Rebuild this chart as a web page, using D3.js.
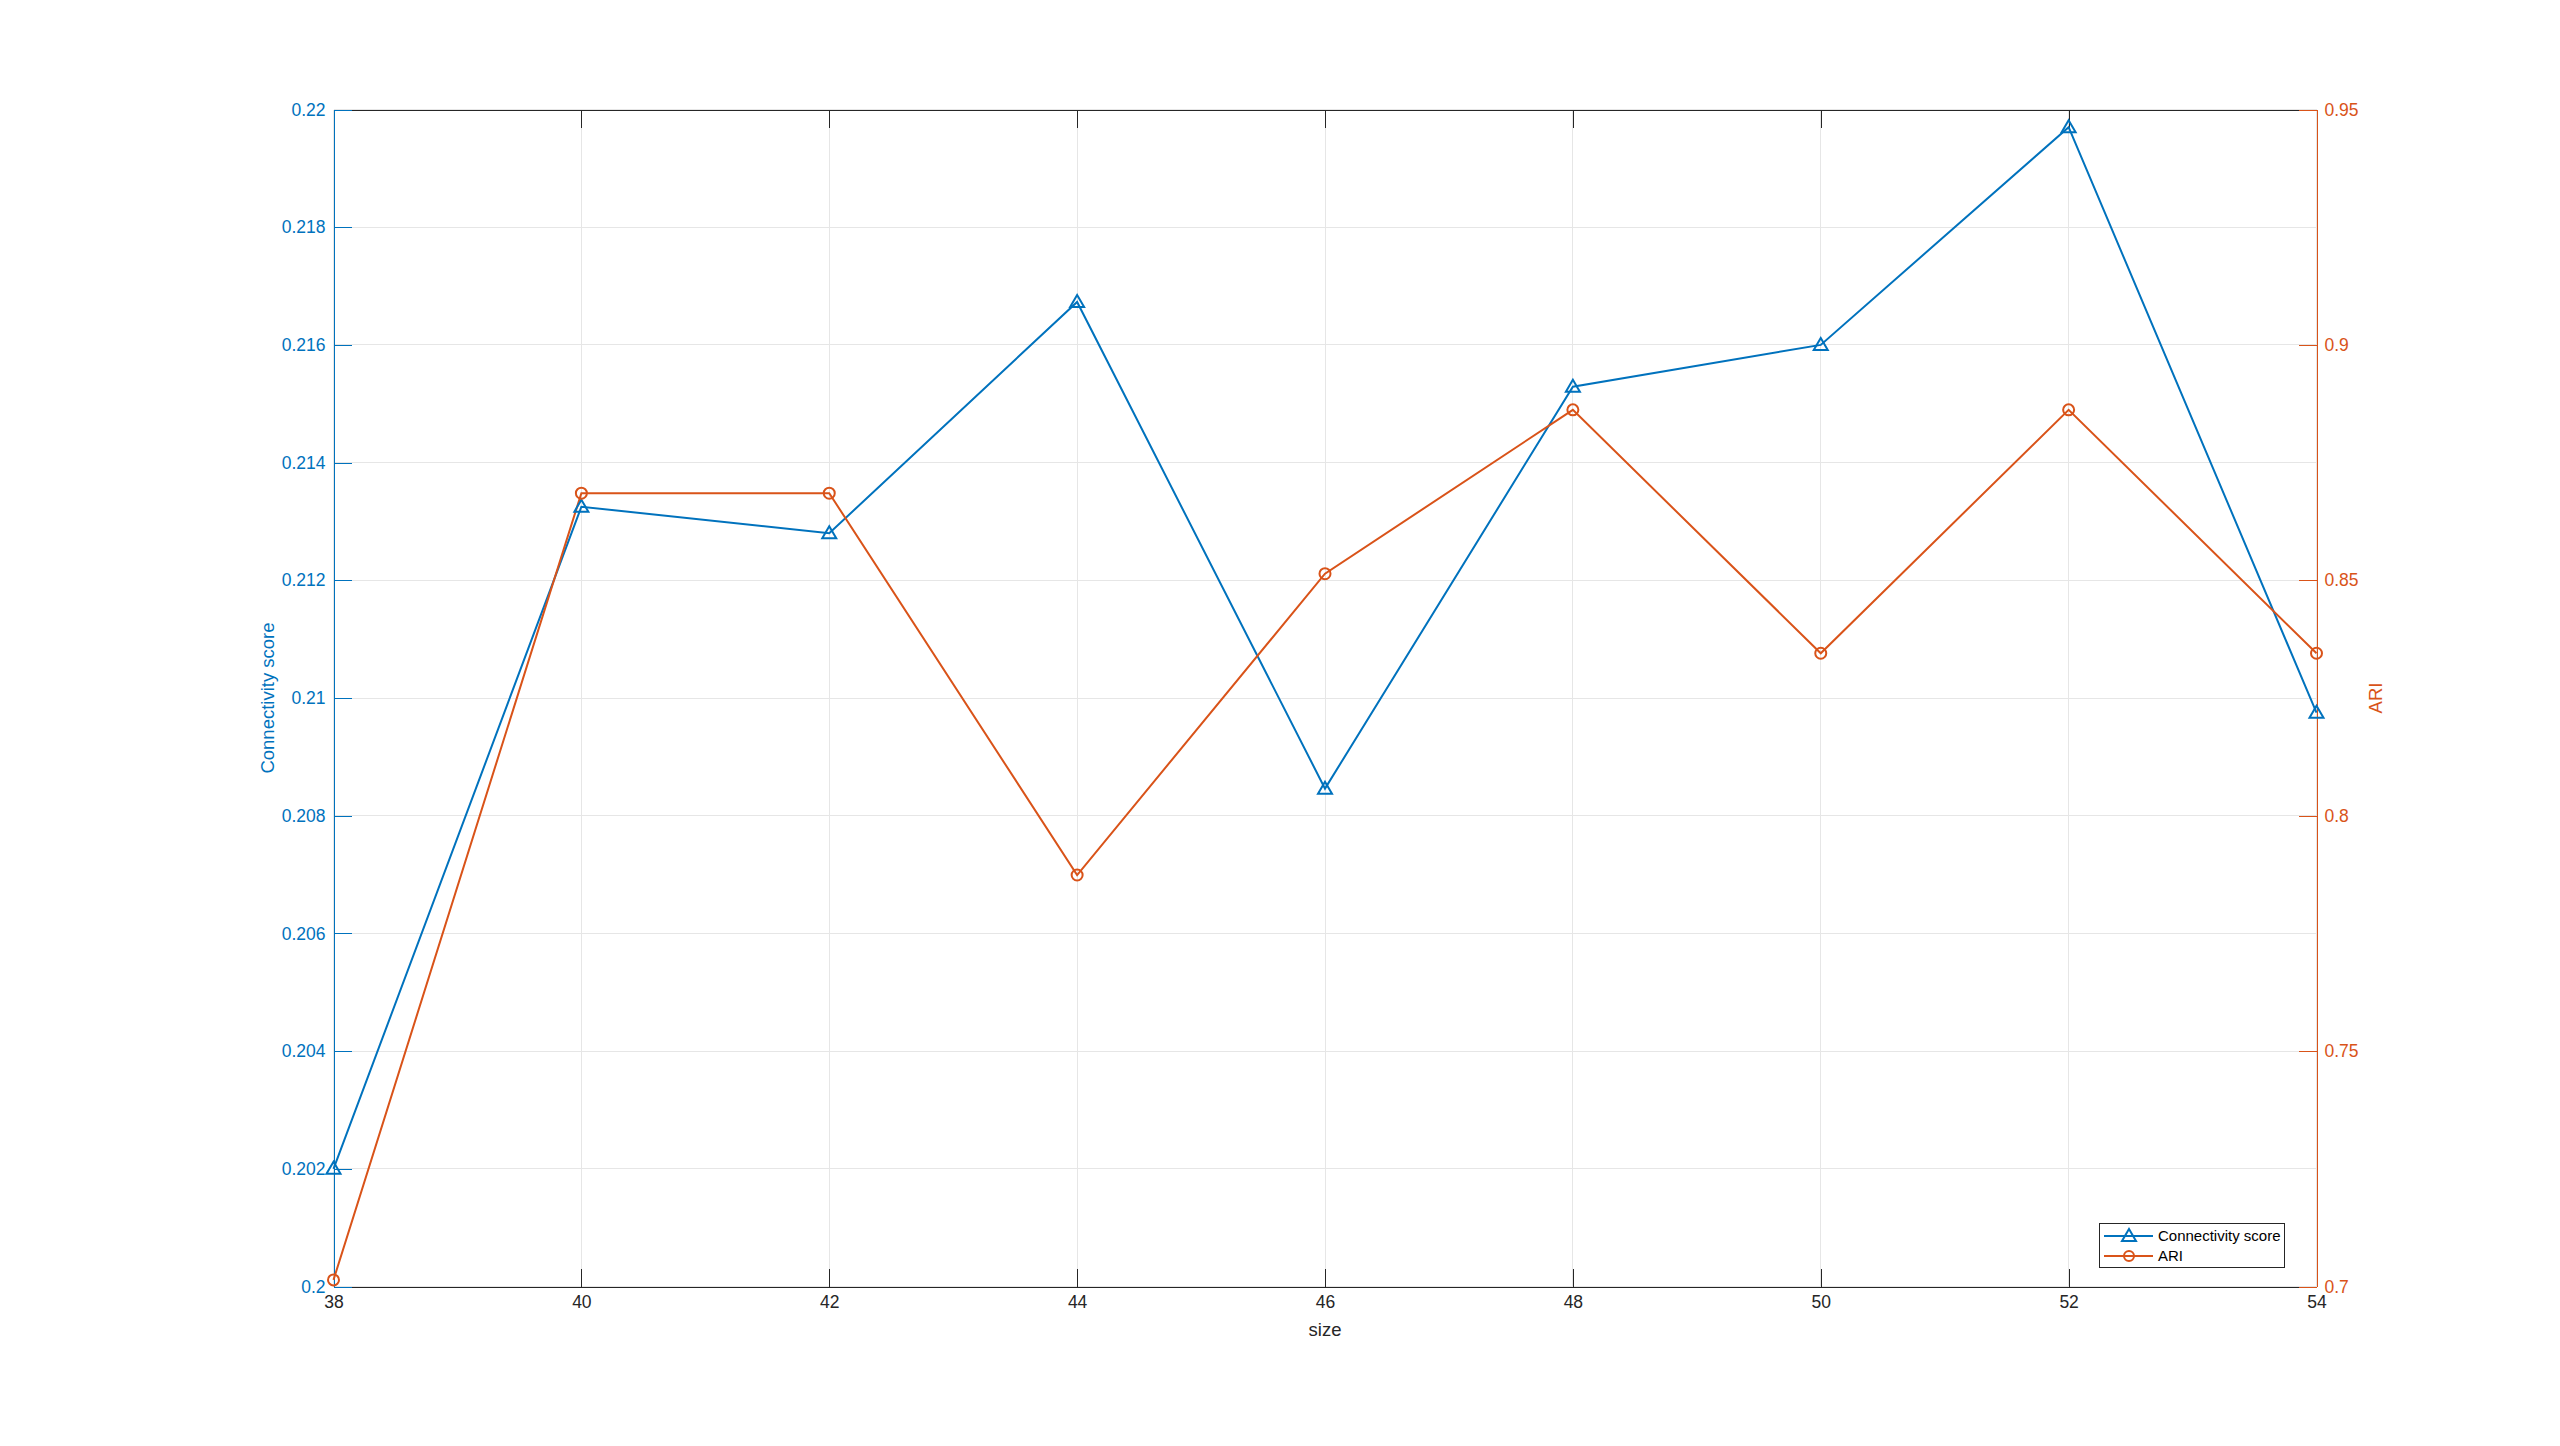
<!DOCTYPE html>
<html>
<head>
<meta charset="utf-8">
<script src="https://cdn.jsdelivr.net/npm/d3@7"></script>
<style>
html,body{margin:0;padding:0;background:#fff;}
svg text{font-family:"Liberation Sans",Arial,Helvetica,sans-serif;}
</style>
</head>
<body>
<svg id="chart" width="2560" height="1446"></svg>
<script>
const sizes = [38, 40, 42, 44, 46, 48, 50, 52, 54];
const connectivity = [0.2020, 0.21325, 0.2128, 0.21673, 0.20846, 0.21529, 0.21600, 0.21970, 0.20975];
const ari = [0.7014, 0.8685, 0.8685, 0.7874, 0.8514, 0.8862, 0.8345, 0.8862, 0.8345];
const xTicks = [38, 40, 42, 44, 46, 48, 50, 52, 54];
const leftTicks = [0.2, 0.202, 0.204, 0.206, 0.208, 0.21, 0.212, 0.214, 0.216, 0.218, 0.22];
const rightTicks = [0.7, 0.75, 0.8, 0.85, 0.9, 0.95];
const seriesNames = ["Connectivity score", "ARI"];

const BLUE = "#0072BD", ORANGE = "#D95319";
const svg = d3.select("#chart");
const L = 333.5, R = 2316.5, T = 109.5, B = 1286.5;
const x = d3.scaleLinear().domain([38, 54]).range([L, R]);
const yL = d3.scaleLinear().domain([0.2, 0.22]).range([B, T]);
const yR = d3.scaleLinear().domain([0.7, 0.95]).range([B, T]);
const TL = 18;
const snap = v => Math.round(v - 0.5) + 0.5;

// grid
const g = svg.append("g").attr("shape-rendering", "crispEdges");
g.selectAll(".vg").data(xTicks).join("line")
  .attr("x1", d => snap(x(d))).attr("x2", d => snap(x(d))).attr("y1", T).attr("y2", B)
  .attr("stroke", "#e6e6e6").attr("stroke-width", 1);
g.selectAll(".hg").data(leftTicks).join("line")
  .attr("x1", L).attr("x2", R).attr("y1", d => snap(yL(d))).attr("y2", d => snap(yL(d)))
  .attr("stroke", "#e6e6e6").attr("stroke-width", 1);

// axes
const fmt = d => String(+d.toFixed(4));
const style = (a, col) => {
  a.attr("shape-rendering", "crispEdges");
  a.select(".domain").attr("stroke", col);
  a.selectAll(".tick line").attr("stroke", col);
  a.selectAll("text").attr("fill", col).style("font-size", "17.5px")
    .style("font-family", "Liberation Sans, Arial, sans-serif");
};
const xb = svg.append("g").attr("transform", `translate(0,${B})`)
  .call(d3.axisBottom(x).tickValues(xTicks).tickSizeInner(-TL).tickSizeOuter(0).tickPadding(9).tickFormat(d => d));
const xt = svg.append("g").attr("transform", `translate(0,${T})`)
  .call(d3.axisTop(x).tickValues(xTicks).tickSizeInner(-TL).tickSizeOuter(0).tickFormat(""));
style(xb, "#262626"); style(xt, "#262626");

const yl = svg.append("g").attr("transform", `translate(${L},0)`)
  .call(d3.axisLeft(yL).tickValues(leftTicks).tickSizeInner(-TL).tickSizeOuter(0).tickPadding(8).tickFormat(fmt));
style(yl, BLUE);

const yr = svg.append("g").attr("transform", `translate(${R},0)`)
  .call(d3.axisRight(yR).tickValues(rightTicks).tickSizeInner(-TL).tickSizeOuter(0).tickPadding(8).tickFormat(fmt));
style(yr, ORANGE);

// labels
svg.append("text").attr("x", (L + R) / 2).attr("y", 1336).attr("text-anchor", "middle")
  .attr("fill", "#262626").style("font-size", "18.5px").text("size");
svg.append("text").attr("transform", `translate(274,${(T + B) / 2}) rotate(-90)`).attr("text-anchor", "middle")
  .attr("fill", BLUE).style("font-size", "18.5px").text("Connectivity score");
svg.append("text").attr("transform", `translate(2376,${(T + B) / 2}) rotate(-90)`).attr("text-anchor", "middle")
  .attr("dy", "0.35em").attr("fill", ORANGE).style("font-size", "18.5px").text("ARI");

// lines
const dataC = sizes.map((s, i) => ({ s, v: connectivity[i] }));
const dataA = sizes.map((s, i) => ({ s, v: ari[i] }));
const triPath = (cx, cy) => `M${cx},${cy - 7}L${cx + 7},${cy + 5}L${cx - 7},${cy + 5}Z`;

svg.append("path").datum(dataC).attr("fill", "none").attr("stroke", BLUE).attr("stroke-width", 2)
  .attr("d", d3.line().x(d => x(d.s)).y(d => yL(d.v)));
svg.append("path").datum(dataA).attr("fill", "none").attr("stroke", ORANGE).attr("stroke-width", 2)
  .attr("d", d3.line().x(d => x(d.s)).y(d => yR(d.v)));
svg.selectAll(".tri").data(dataC).join("path")
  .attr("d", d => triPath(x(d.s), yL(d.v))).attr("fill", "none").attr("stroke", BLUE).attr("stroke-width", 2);
svg.selectAll(".circ").data(dataA).join("circle")
  .attr("cx", d => x(d.s)).attr("cy", d => yR(d.v)).attr("r", 5.5)
  .attr("fill", "none").attr("stroke", ORANGE).attr("stroke-width", 2);

// legend
const lg = svg.append("g");
lg.append("rect").attr("x", 2099.5).attr("y", 1223.5).attr("width", 185).attr("height", 44)
  .attr("fill", "#fff").attr("stroke", "#262626").attr("stroke-width", 1).attr("shape-rendering", "crispEdges");
const items = [{ n: seriesNames[0], c: BLUE, y: 1236 }, { n: seriesNames[1], c: ORANGE, y: 1256 }];
items.forEach((it, i) => {
  lg.append("line").attr("x1", 2104).attr("x2", 2153).attr("y1", it.y).attr("y2", it.y)
    .attr("stroke", it.c).attr("stroke-width", 2);
  if (i === 0) lg.append("path").attr("d", triPath(2129, it.y)).attr("fill", "none").attr("stroke", it.c).attr("stroke-width", 2);
  else lg.append("circle").attr("cx", 2129).attr("cy", it.y).attr("r", 5).attr("fill", "none").attr("stroke", it.c).attr("stroke-width", 2);
  lg.append("text").attr("x", 2158).attr("y", it.y).attr("dy", "0.35em").attr("fill", "#000")
    .style("font-size", "15px").text(it.n);
});
</script>
</body>
</html>
